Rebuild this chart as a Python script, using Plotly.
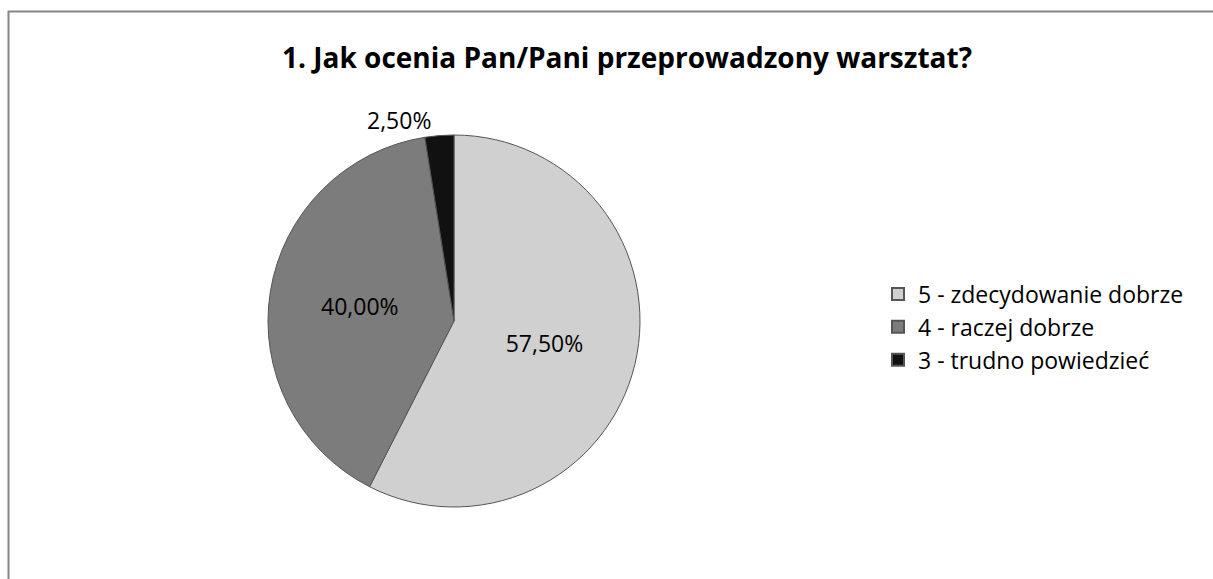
import plotly.graph_objects as go

labels = ["5 - zdecydowanie dobrze", "4 - raczej dobrze", "3 - trudno powiedzieć"]
values = [57.5, 40.0, 2.5]
value_text = ["57,50%", "40,00%", "2,50%"]
colors = ["#d0d0d0", "#7c7c7c", "#111111"]

W, H = 1213, 579
cx, cy, r = 454, 321, 186

fig = go.Figure(go.Pie(
    labels=labels,
    values=values,
    text=value_text,
    textinfo="text",
    texttemplate="%{text}",
    hoverinfo="label+percent",
    sort=False,
    direction="clockwise",
    rotation=0,
    marker=dict(colors=colors, line=dict(color="#555555", width=1)),
    textposition=["inside", "inside", "outside"],
    insidetextorientation="horizontal",
    textfont=dict(size=23, color="#000000", family="Open Sans"),
    domain=dict(x=[(cx - r) / W, (cx + r) / W], y=[(H - cy - r) / H, (H - cy + r) / H]),
))

fig.update_layout(
    width=W, height=H,
    margin=dict(l=0, r=0, t=0, b=0),
    paper_bgcolor="white",
    font=dict(family="Open Sans", color="#000000"),
    title=dict(text="<b>1. Jak ocenia Pan/Pani przeprowadzony warsztat?</b>",
               x=627 / W, xanchor="center", y=1 - 58 / H, yanchor="middle",
               font=dict(size=28, family="Open Sans", color="#000000")),
    legend=dict(x=878 / W, xanchor="left", y=(H - 327) / H, yanchor="middle",
                font=dict(size=23, family="Open Sans", color="#000000"),
                itemsizing="constant", tracegroupgap=0),
    shapes=[dict(type="rect", xref="paper", yref="paper",
                 x0=8.5 / W, x1=1.05, y0=-0.05, y1=1 - 11.5 / H,
                 line=dict(color="#858585", width=2), fillcolor="rgba(0,0,0,0)")],
)

fig.write_html("out.html", config={"displayModeBar": False},
               post_script="document.body.style.margin='0';")
